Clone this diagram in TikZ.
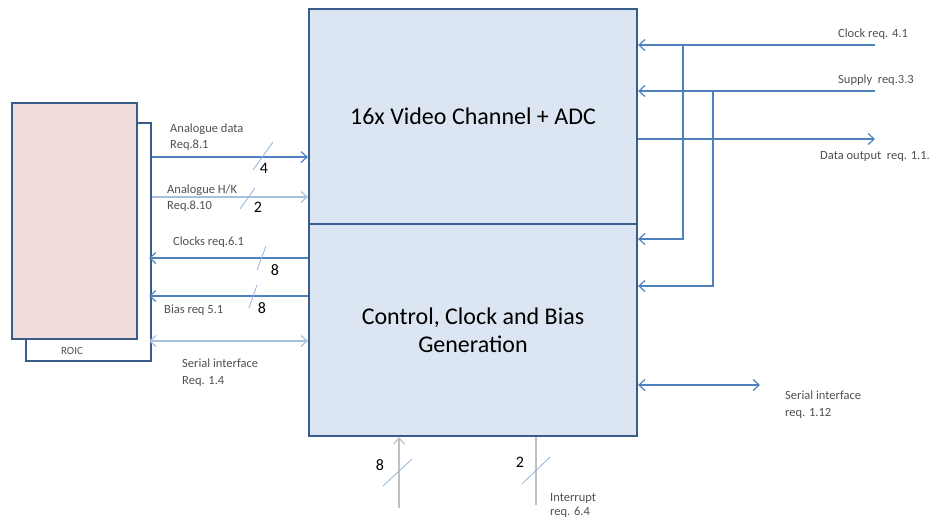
\documentclass[tikz,border=0pt]{standalone}
\usepackage{fontspec}
\setmainfont{Carlito}
\usetikzlibrary{arrows.meta}
\definecolor{boxfill}{HTML}{DCE6F2}
\definecolor{boxline}{HTML}{385D8A}
\definecolor{pinkfill}{HTML}{F2DCDB}
\definecolor{darkarr}{HTML}{4F81BD}
\definecolor{lightarr}{HTML}{A8C0E0}
\definecolor{greyarr}{HTML}{C0C0C0}
\definecolor{labtxt}{HTML}{505050}
\tikzset{
  blockbox/.style={draw=boxline, line width=2.2pt, fill=boxfill, minimum width=328pt, inner sep=0pt, align=center, font=\fontsize{24}{28}\selectfont},
  tip/.style={-{Straight Barb[length=6pt,width=11pt,line width=1.2pt]}},
  dbl/.style={{Straight Barb[length=6pt,width=11pt,line width=1.2pt]}-{Straight Barb[length=6pt,width=11pt,line width=1.2pt]}},
  darkline/.style={draw=darkarr, line width=1.5pt},
  lightline/.style={draw=lightarr, line width=1.2pt},
  greyline/.style={draw=greyarr, line width=1.2pt},
  slashline/.style={draw=lightarr!80!darkarr, line width=0.8pt},
  lab/.style={font=\fontsize{12.5}{16}\selectfont, text=labtxt, inner sep=0pt, align=left},
  num/.style={font=\fontsize{16}{17}\selectfont, inner sep=0pt},
}
\begin{document}
\begin{tikzpicture}[x=1pt,y=-1pt]
\useasboundingbox (0,0) rectangle (933,520);
% ROIC
\node[draw=boxline, line width=1.5pt, fill=white, minimum width=125pt, minimum height=238pt, inner sep=0pt] (roicb) at (88.5,242) {};
\node[draw=boxline, line width=2.2pt, fill=pinkfill, minimum width=125pt, minimum height=236pt, inner sep=0pt] (roic) at (74.5,221) {};
\node[lab, font=\fontsize{11}{12}\selectfont] (roict) at (72,351) {ROIC};
% Main blocks
\node[blockbox, minimum height=215pt] (video) at (473,116.5) {16x Video Channel + ADC};
\node[blockbox, minimum height=212pt] (ctrl) at (473,330) {Control, Clock and Bias\\Generation};
% Left connectors
\draw[darkline, tip] (roicb.east |- 0,157) -- (video.west |- 0,157);
\draw[lightline, tip] (roicb.east |- 0,197) -- (video.west |- 0,197);
\draw[darkline, tip] (ctrl.west |- 0,258) -- (149,258);
\draw[darkline, tip] (ctrl.west |- 0,296) -- (149,296);
\draw[lightline, dbl] (149,341) -- (ctrl.west |- 0,341);
% slashes
\draw[slashline] (253,170) -- (273,142);
\draw[slashline] (240,209) -- (255,188);
\draw[slashline] (257,270) -- (266,246);
\draw[slashline] (249,308) -- (257,285);
% numbers
\node[num] (n4) at (264,168) {4};
\node[num] (n2a) at (258,207) {2};
\node[num] (n8a) at (275,270) {8};
\node[num] (n8b) at (262,308) {8};
% left labels
\node[lab, anchor=base west] (l1) at (170,132) {Analogue data};
\node[lab, anchor=base west] (l1b) at (170,148) {Req.8.1};
\node[lab, anchor=base west] (l2) at (167,193) {Analogue H/K};
\node[lab, anchor=base west] (l2b) at (167,209) {Req.8.10};
\node[lab, anchor=base west] (l3) at (173,245) {Clocks req.6.1};
\node[lab, anchor=base west] (l4) at (164,313) {Bias req 5.1};
\node[lab, anchor=base west] (l5) at (182,367) {Serial interface};
\node[lab, anchor=base west] (l5b) at (182,384) {Req. 1.4};
% Right connectors
\coordinate (clkin) at (875,45);
\coordinate (supin) at (875,91);
\coordinate (dout) at (875,139);
\coordinate (serout) at (760,385);
\draw[darkline, tip] (clkin) -- (video.east |- clkin);
\draw[darkline, tip] (supin) -- (video.east |- supin);
\draw[darkline, tip] (video.east |- dout) -- (dout);
\draw[darkline, tip] (683,45) -- (683,239) -- (ctrl.east |- 0,239);
\draw[darkline, tip] (713,91) -- (713,286) -- (ctrl.east |- 0,286);
\draw[darkline, dbl] (ctrl.east |- serout) -- (serout);
\node[lab, anchor=base west] (r1) at (838,37) {Clock req. 4.1};
\node[lab, anchor=base west] (r2) at (838,83) {Supply\ \ req.3.3};
\node[lab, anchor=base west] (r3) at (820,159) {Data output\ \ req. 1.1.};
\node[lab, anchor=base west] (r4) at (785,399) {Serial interface};
\node[lab, anchor=base west] (r4b) at (785,416) {req. 1.12};
% Bottom connectors
\coordinate (bin) at (399,508);
\coordinate (bint) at (536,505);
\draw[greyline, tip] (bin) -- (ctrl.south -| bin);
\draw[greyline] (ctrl.south -| bint) -- (bint);
\draw[slashline] (383,486) -- (412,459);
\draw[slashline] (522,484) -- (550,457);
\node[num] (n8c) at (380,465) {8};
\node[num] (n2b) at (520,462) {2};
\node[lab, anchor=base west] (b1) at (550,501) {Interrupt};
\node[lab, anchor=base west] (b1b) at (550,515) {req. 6.4};
\end{tikzpicture}
\end{document}
